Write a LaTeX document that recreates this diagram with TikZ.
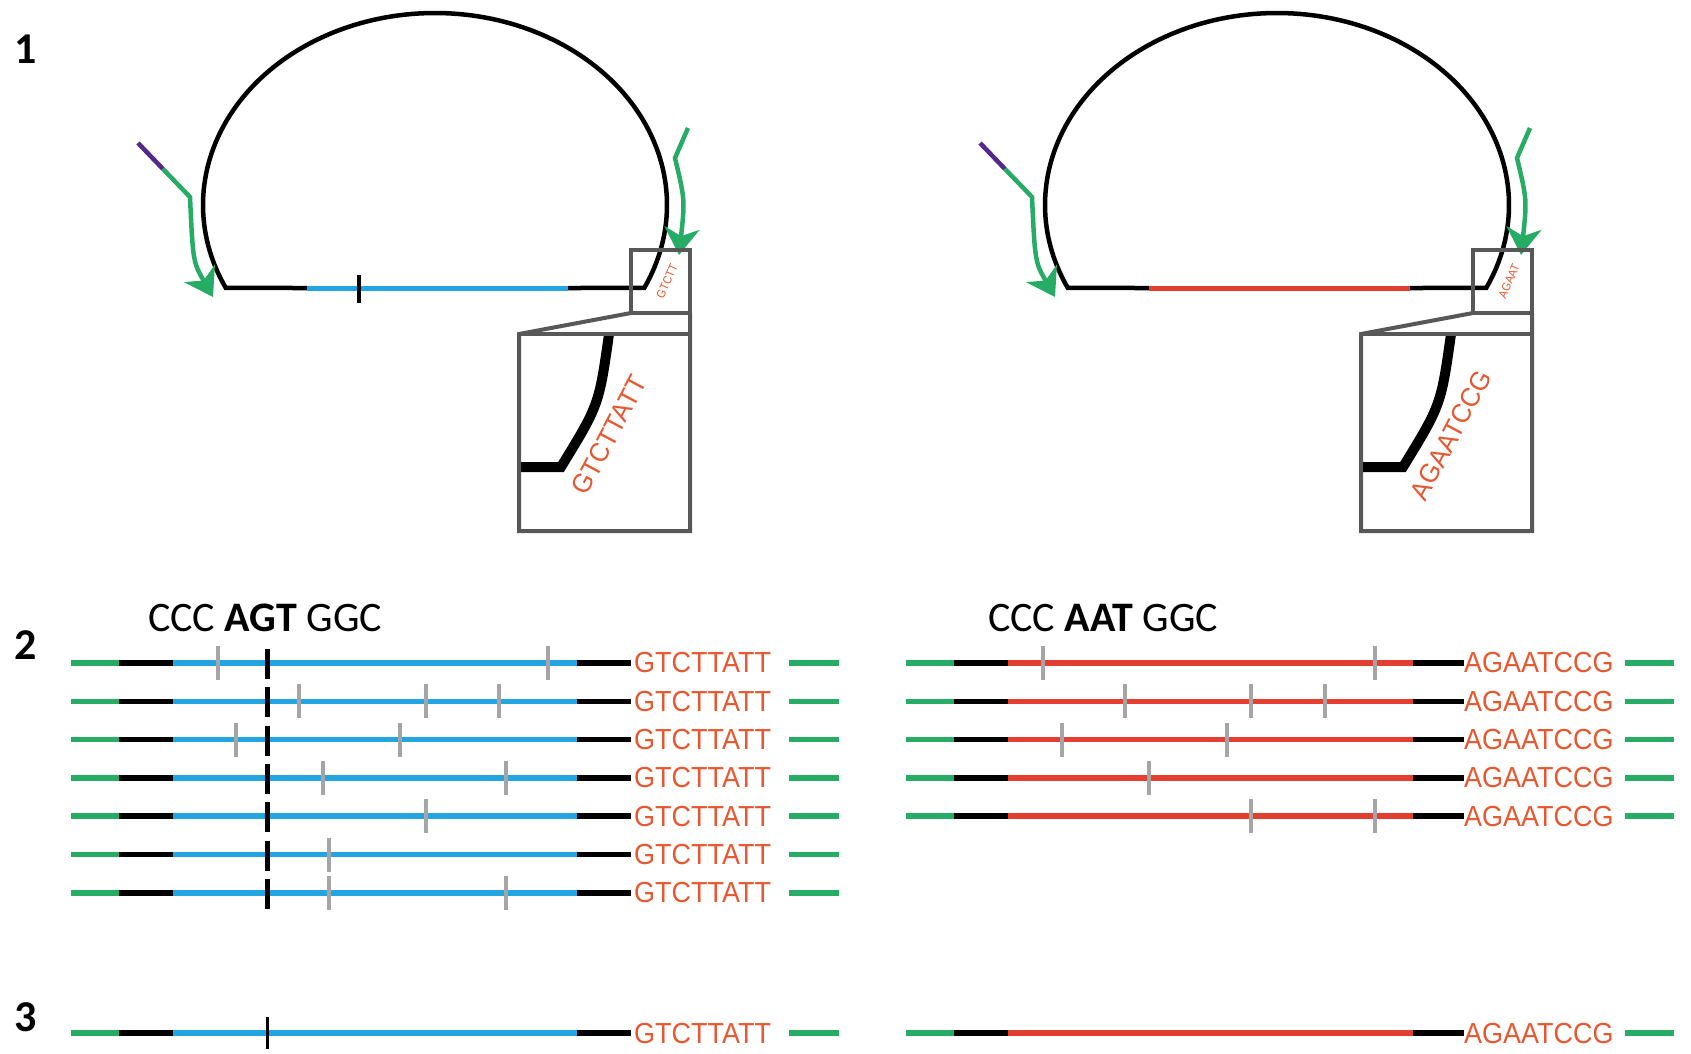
\documentclass[tikz,border=0pt]{standalone}
\usepackage{fontspec}
\setmainfont{Liberation Sans}
\newfontfamily\calfont{Carlito}
\newfontfamily\seqfont{Liberation Sans}
\usetikzlibrary{arrows.meta}
\definecolor{dnablue}{RGB}{35,165,225}
\definecolor{dnared}{RGB}{226,62,50}
\definecolor{dnagreen}{RGB}{38,172,100}
\definecolor{seqorange}{RGB}{232,88,48}
\definecolor{ticgray}{RGB}{165,165,165}
\definecolor{boxgray}{RGB}{88,88,88}
\definecolor{primpurple}{RGB}{85,40,140}
\begin{document}
\begin{tikzpicture}[x=1pt,y=-1pt,
  strand/.style={line width=5.5pt},
  dome/.style={line width=4.5pt, black, line join=miter},
  zoombox/.style={draw=boxgray, line width=4pt},
  primer/.style={dnagreen, line width=4.5pt, -{Stealth[length=27pt,width=35pt,inset=8pt]}},
  mut/.style={ticgray, line width=4.5pt},
  seq/.style={text=seqorange, font=\seqfont\fontsize{29}{29}\selectfont, xscale=0.93, inner sep=0pt, anchor=west},
  rotseq/.style={text=seqorange, inner sep=0pt},
  panellabel/.style={font=\calfont\bfseries\fontsize{44}{44}\selectfont, inner sep=0pt, anchor=base},
  codon/.style={font=\calfont\fontsize{42}{42}\selectfont, inner sep=0pt, anchor=base west}]
\fill[white] (0,0) rectangle (1691,1053);
\useasboundingbox (0,0) rectangle (1691,1053);

% panel labels
\node[panellabel] (lab1) at (26,63) {1};
\node[panellabel] (lab2) at (26,659) {2};
\node[panellabel] (lab3) at (26,1031) {3};

% ---------- panel 1 ----------
\foreach \shift/\col/\small/\big/\tk in {0/dnablue/GTCTT/GTCTTATT/1, 842/dnared/AGAAT/AGAATCCG/0}{
\begin{scope}[xshift=\shift pt]
  \draw[dome] (307,288) -- plot[domain=154.4:385.6,samples=140] ({435+232*cos(\x)},{205+192*sin(\x)}) -- (568,288);
  \draw[\col, line width=5pt] (307,288) -- (568,288);
  \ifnum\tk=1 \draw[line width=3.5pt] (359,275) -- (359,303); \fi
  % primers
  \draw[primpurple, line width=4.5pt] (138,143) -- (163,169);
  \draw[primer] (163,169) -- (190,197) .. controls (193,262) .. (213,297);
  \draw[primer] (688,128) -- (675,158) .. controls (685,200) .. (679,255);
  % zoom boxes
  \draw[line width=10pt, line join=miter] (609,334) .. controls (599,405) .. (561,467) -- (521,467);
  \draw[zoombox] (631,250) rectangle (690,313);
  \draw[zoombox, line join=miter] (631,313) -- (519,334) -- (519,531) -- (690,531) -- (690,313);
  \draw[zoombox] (519,334) -- (690,334);
  \node[rotseq, rotate=66, xscale=0.9, font=\seqfont\fontsize{12}{12}\selectfont] (zs\tk) at (667,281) {\small};
  \node[rotseq, rotate=62, xscale=0.95, font=\seqfont\fontsize{27}{27}\selectfont] (zb\tk) at (609,435) {\big};
\end{scope}
}

% ---------- panel 2 ----------
\node[codon] (codL) at (148,631) {CCC \textbf{AGT} GGC};
\node[codon] (codR) at (988,631) {CCC \textbf{AAT} GGC};

\foreach \y/\ticks [count=\i] in {663/{218,548}, 701.3/{299,426,499}, 739.6/{236,400}, 777.9/{323,506}, 816.2/{426}, 854.5/{329}, 892.8/{329,506}}{
  \draw[dnagreen, strand] (71,\y) -- (119,\y);
  \draw[black, strand] (119,\y) -- (173,\y);
  \draw[dnablue, strand] (173,\y) -- (577,\y);
  \draw[black, strand] (577,\y) -- (631,\y);
  \node[seq] (sL\i) at (634,\y) {GTCTTATT};
  \draw[dnagreen, strand] (789,\y) -- (839,\y);
  \foreach \t in \ticks { \draw[mut] (\t,\y-17) -- (\t,\y+17); }
}
\draw[line width=5pt, dash pattern=on 30pt off 8.3pt] (267,649) -- (267,911);

\foreach \y/\ticks [count=\i] in {663/{1043,1375}, 701.3/{1125,1251,1325}, 739.6/{1062,1227}, 777.9/{1149}, 816.2/{1251,1375}}{
  \draw[dnagreen, strand] (906,\y) -- (954,\y);
  \draw[black, strand] (954,\y) -- (1008,\y);
  \draw[dnared, strand] (1008,\y) -- (1413,\y);
  \draw[black, strand] (1413,\y) -- (1464,\y);
  \node[seq] (sR\i) at (1464,\y) {AGAATCCG};
  \draw[dnagreen, strand] (1625,\y) -- (1674,\y);
  \foreach \t in \ticks { \draw[mut] (\t,\y-17) -- (\t,\y+17); }
}

% ---------- panel 3 ----------
\def\yy{1033}
\draw[dnagreen, strand] (71,\yy) -- (119,\yy);
\draw[black, strand] (119,\yy) -- (173,\yy);
\draw[dnablue, strand] (173,\yy) -- (577,\yy);
\draw[black, strand] (577,\yy) -- (631,\yy);
\node[seq] (fL) at (634,\yy) {GTCTTATT};
\draw[dnagreen, strand] (789,\yy) -- (839,\yy);
\draw[line width=3pt] (267,1017) -- (267,1049);

\draw[dnagreen, strand] (906,\yy) -- (954,\yy);
\draw[black, strand] (954,\yy) -- (1008,\yy);
\draw[dnared, strand] (1008,\yy) -- (1413,\yy);
\draw[black, strand] (1413,\yy) -- (1464,\yy);
\node[seq] (fR) at (1464,\yy) {AGAATCCG};
\draw[dnagreen, strand] (1625,\yy) -- (1674,\yy);
\end{tikzpicture}
\end{document}
